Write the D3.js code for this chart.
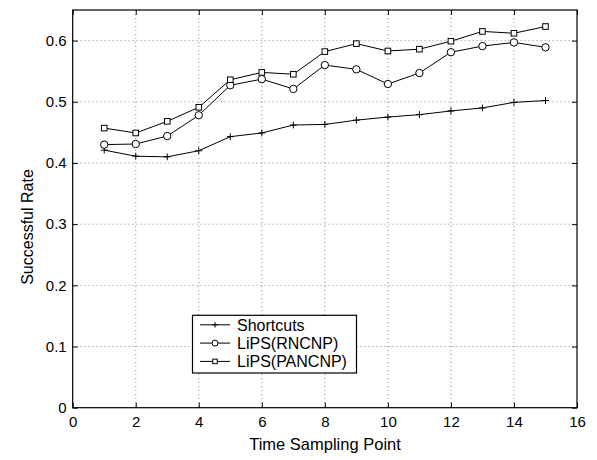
<!DOCTYPE html>
<html>
<head>
<meta charset="utf-8">
<script src="https://cdn.jsdelivr.net/npm/d3@7"></script>
<style>
  body { margin: 0; background: #fff; }
  text { font-family: "Liberation Sans", Arial, sans-serif; fill: #000; }
</style>
</head>
<body>
<div id="chart"></div>
<script>
var timePoints = [1, 2, 3, 4, 5, 6, 7, 8, 9, 10, 11, 12, 13, 14, 15];
var shortcuts = [0.421, 0.411, 0.410, 0.420, 0.443, 0.449, 0.462, 0.463, 0.470, 0.475, 0.479, 0.485, 0.490, 0.499, 0.502];
var rncnp = [0.430, 0.431, 0.444, 0.478, 0.527, 0.537, 0.521, 0.560, 0.553, 0.529, 0.547, 0.581, 0.591, 0.597, 0.589];
var pancnp = [0.457, 0.449, 0.468, 0.491, 0.536, 0.548, 0.545, 0.582, 0.595, 0.583, 0.586, 0.599, 0.615, 0.612, 0.623];
var seriesNames = ["Shortcuts", "LiPS(RNCNP)", "LiPS(PANCNP)"];
var markerTypes = ["plus", "circle", "square"];
var xTicks = [0, 2, 4, 6, 8, 10, 12, 14, 16];
var yTicks = [0, 0.1, 0.2, 0.3, 0.4, 0.5, 0.6];

var width = 597, height = 460;
var plotLeft = 72.7, plotRight = 577, plotTop = 10, plotBottom = 407.7;

var svg = d3.select("#chart").append("svg")
    .attr("width", width)
    .attr("height", height);

var x = d3.scaleLinear().domain([0, 16]).range([plotLeft, plotRight]);
var y = d3.scaleLinear().domain([0, 0.65]).range([plotBottom, plotTop]);

// dotted grid
var grid = svg.append("g").attr("stroke", "#555").attr("stroke-width", 0.7)
    .attr("stroke-dasharray", "1,3");
grid.selectAll(".gx").data(xTicks.slice(1, -1)).enter().append("line")
    .attr("x1", function (d) { return x(d); })
    .attr("x2", function (d) { return x(d); })
    .attr("y1", plotTop).attr("y2", plotBottom);
grid.selectAll(".gy").data(yTicks.slice(1)).enter().append("line")
    .attr("y1", function (d) { return y(d); })
    .attr("y2", function (d) { return y(d); })
    .attr("x1", plotLeft).attr("x2", plotRight);

// axes with inward ticks, on all four sides
var fmtY = function (d) { return d === 0 ? "0" : d3.format(".1f")(d); };
var xb = svg.append("g").attr("transform", "translate(0," + plotBottom + ")")
    .call(d3.axisBottom(x).tickValues(xTicks).tickSizeInner(-5).tickSizeOuter(0).tickPadding(9));
var xt = svg.append("g").attr("transform", "translate(0," + plotTop + ")")
    .call(d3.axisTop(x).tickValues(xTicks).tickSizeInner(-5).tickSizeOuter(0).tickFormat(""));
var yl = svg.append("g").attr("transform", "translate(" + plotLeft + ",0)")
    .call(d3.axisLeft(y).tickValues(yTicks).tickSizeInner(-5).tickSizeOuter(0).tickPadding(6).tickFormat(fmtY));
var yr = svg.append("g").attr("transform", "translate(" + plotRight + ",0)")
    .call(d3.axisRight(y).tickValues(yTicks).tickSizeInner(-5).tickSizeOuter(0).tickFormat(""));
[xb, xt, yl, yr].forEach(function (g) {
    g.selectAll("text").style("font-size", "15px").attr("fill", "#000");
    g.selectAll("line").attr("stroke", "#000");
    g.select(".domain").remove();
});
svg.append("rect")
    .attr("x", plotLeft).attr("y", plotTop)
    .attr("width", plotRight - plotLeft).attr("height", plotBottom - plotTop)
    .attr("fill", "none").attr("stroke", "#000").attr("stroke-width", 1.2);

// labels
svg.append("text").attr("x", 325).attr("y", 450)
    .attr("text-anchor", "middle").style("font-size", "16.5px")
    .text("Time Sampling Point");
svg.append("text")
    .attr("transform", "translate(27," + 227 + ") rotate(-90)")
    .attr("text-anchor", "middle").attr("dy", "0.35em").style("font-size", "16px")
    .text("Successful Rate");

// markers
function drawMarker(g, type, cx, cy, k) {
    if (type === "plus") {
        var h = 3.4 * k;
        g.append("path")
            .attr("d", "M" + (cx - h) + "," + cy + "H" + (cx + h) + "M" + cx + "," + (cy - h) + "V" + (cy + h))
            .attr("stroke", "#000").attr("stroke-width", 1);
    } else if (type === "circle") {
        g.append("circle").attr("cx", cx).attr("cy", cy).attr("r", 3.7 * k)
            .attr("fill", "#fff").attr("stroke", "#000").attr("stroke-width", 1);
    } else {
        var s = 2.8 * k;
        g.append("rect").attr("x", cx - s).attr("y", cy - s).attr("width", 2 * s).attr("height", 2 * s)
            .attr("fill", "#fff").attr("stroke", "#000").attr("stroke-width", 1);
    }
}

var allSeries = [shortcuts, rncnp, pancnp];
var line = d3.line()
    .x(function (d, i) { return x(timePoints[i]); })
    .y(function (d) { return y(d); });

allSeries.forEach(function (vals, s) {
    var g = svg.append("g");
    g.append("path").datum(vals)
        .attr("d", line)
        .attr("fill", "none").attr("stroke", "#000").attr("stroke-width", 1);
    vals.forEach(function (v, i) {
        drawMarker(g, markerTypes[s], x(timePoints[i]), y(v), 1);
    });
});

// legend
var lg = svg.append("g");
lg.append("rect").attr("x", 192.5).attr("y", 315.3).attr("width", 164).attr("height", 57.7)
    .attr("fill", "#fff").attr("stroke", "#000").attr("stroke-width", 1.2);
seriesNames.forEach(function (name, i) {
    var cy = 324.8 + i * 18.3;
    lg.append("line").attr("x1", 200).attr("x2", 230).attr("y1", cy).attr("y2", cy)
        .attr("stroke", "#000").attr("stroke-width", 1);
    drawMarker(lg, markerTypes[i], 215, cy, 0.8);
    lg.append("text").attr("x", 237).attr("y", cy).attr("dy", "0.36em")
        .style("font-size", "16px").text(name);
});
</script>
</body>
</html>
